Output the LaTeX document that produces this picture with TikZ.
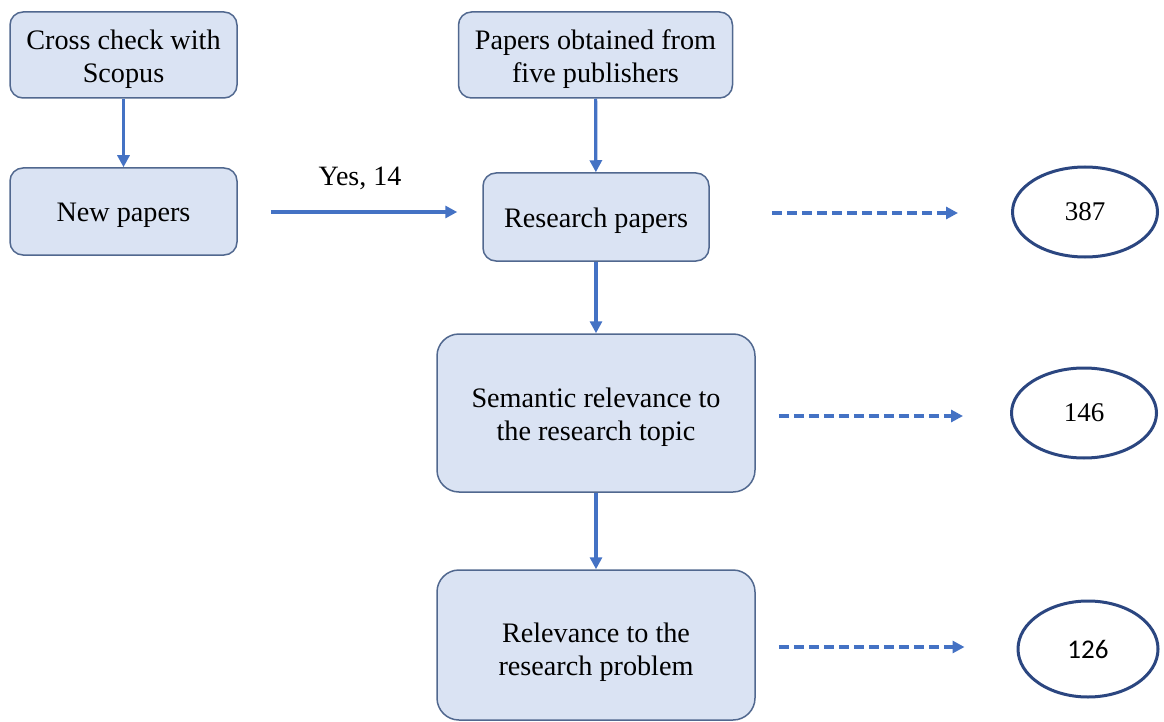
\documentclass[tikz,border=0pt]{standalone}
\usepackage{fontspec}
\setmainfont{LiberationSerif}[Extension=.ttf, UprightFont=*-Regular, BoldFont=*-Bold, ItalicFont=*-Italic]
\newfontfamily\calib{Carlito}
\usetikzlibrary{arrows.meta,shapes.geometric}
\definecolor{boxfill}{HTML}{DAE3F3}
\definecolor{boxline}{HTML}{51688F}
\definecolor{arrowblue}{HTML}{4472C4}
\definecolor{ovalline}{HTML}{2B4680}
\tikzset{
  stepbox/.style={draw=boxline, line width=1.5pt, fill=boxfill, rounded corners=13pt,
    inner sep=0pt},
  bigbox/.style={stepbox, rounded corners=22pt},
  boxtext/.style={align=center, inner sep=0pt, font=\fontsize{28.2}{33.5}\selectfont, yshift=-4pt},
  countoval/.style={ellipse, draw=ovalline, line width=3pt, minimum width=145pt,
    minimum height=90pt, inner sep=0pt, font=\fontsize{27}{30}\selectfont},
  flow/.style={draw=arrowblue, line width=3.2pt, -{Triangle[length=12pt,width=12pt]}},
  dflow/.style={flow, dash pattern=on 10pt off 5pt},
}
\begin{document}
\begin{tikzpicture}[x=1pt,y=-1pt]
\useasboundingbox (0,0) rectangle (1164,722);
\node[stepbox, minimum width=227pt, minimum height=86pt,
  label={[boxtext]center:{Cross check with\\Scopus}}] (cross) at (123.5,55) {};
\node[stepbox, minimum width=227pt, minimum height=87pt,
  label={[boxtext]center:{New papers}}] (new) at (123.5,211.5) {};
\node[stepbox, minimum width=274pt, minimum height=86pt,
  label={[boxtext]center:{Papers obtained from\\five publishers}}] (pub) at (595.5,55) {};
\node[stepbox, minimum width=226pt, minimum height=88pt,
  label={[boxtext]center:{Research papers}}] (res) at (596,217) {};
\node[bigbox, minimum width=318pt, minimum height=158pt,
  label={[boxtext]center:{Semantic relevance to\\the research topic}}] (sem) at (596,413) {};
\node[bigbox, minimum width=318pt, minimum height=150pt,
  label={[boxtext, yshift=-3pt]center:{Relevance to the\\research problem}}] (rel) at (596,645) {};
\node[countoval] (c387) at (1085,212) {387};
\node[countoval] (c146) at (1084,413) {146};
\node[countoval, minimum width=140pt, minimum height=96pt] (c126) at (1088,649) {\calib 126};

\draw[flow] (cross) -- (new);
\draw[flow] (pub) -- (res);
\draw[flow] (res) -- (sem);
\draw[flow] (sem) -- (rel);
\draw[flow, shorten <=33pt, shorten >=25pt] (new.east |- 0,212) -- node[above=17pt, font=\fontsize{28}{30}\selectfont, text=black] {Yes, 14} (res.west |- 0,212);
\draw[dflow, shorten <=62pt, shorten >=53pt] (res.east |- 0,213) -- (c387.west |- 0,213);
\draw[dflow, shorten <=23pt, shorten >=47pt] (sem.east |- 0,416) -- (c146.west |- 0,416);
\draw[dflow, shorten <=23pt, shorten >=52pt] (rel.east |- 0,647) -- (c126.west |- 0,647);
\end{tikzpicture}
\end{document}
